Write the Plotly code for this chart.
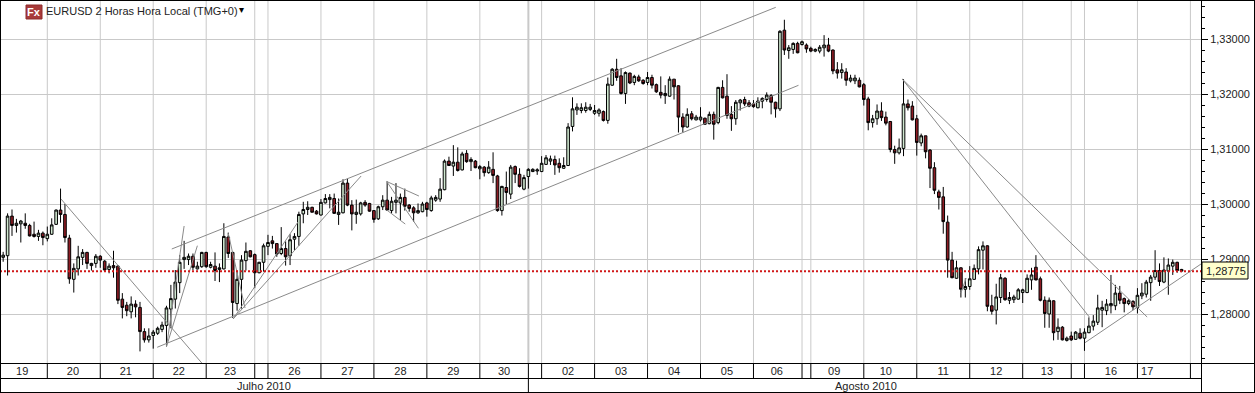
import plotly.graph_objects as go

# Prices in pips (1/10000), one entry per 2-hour candle
high_pips = [
12913,12983,12990,12973,12971,12983,12964,12968,12953,12950,
12959,12974,12990,13028,13000,12944,12892,12924,12918,12913,
12893,12909,12907,12898,12892,12915,12889,12838,12822,12832,
12825,12822,12774,12774,12771,12777,12786,12815,12853,12880,
12907,12933,12910,12910,12895,12913,12913,12895,12912,12892,
12965,12948,12913,12879,12907,12930,12916,12910,12895,12928,
12944,12942,12928,12958,12932,12945,12947,12986,
13004,13005,12995,12989,13009,13018,13018,13019,13010,13045,
13046,13007,13008,13004,13007,13002,12989,12997,13016,13041,
13013,13038,13019,13028,13000,12996,13001,13004,13004,13015,
13016,13047,13081,13086,13107,13103,13095,13098,13085,13080,
13071,13069,13078,13094,13053,13033,13059,13071,13070,13065,
13053,13065,13065,13065,13087,13089,13088,13088,13083,13085,
13147,13194,13183,13183,13185,13182,13180,13174,13170,13230,
13247,13264,13247,13241,13239,13235,13235,13227,13240,13235,
13219,13232,13216,13232,13227,13216,13165,13174,13169,13162,
13176,13157,13168,13168,13213,13225,13236,13178,13189,13191,
13195,13189,13189,13194,13194,13203,13200,13186,13316,13335,
13289,13294,13295,13297,13292,13286,13283,13289,13307,13302,
13281,13258,13256,13247,13235,13235,13230,
13220,13195,13162,13181,13185,13168,13151,13106,13119,13227,
13190,13187,13162,13128,13124,13100,13076,13026,13031,12979,
12913,12897,12885,12865,12887,12890,12923,12932,12925,12835,
12855,12873,12867,12840,12835,12847,12846,12872,12884,12907,
12868,
12832,12830,12825,12792,12778,12759,12768,12769,12774,12774,
12794,12798,12835,12824,12827,12871,12853,12851,12830,12827,
12825,12847,12856,12862,12871,12916,12892,12903,12901,12899,
12895,12882]

body_top_pips = [
12907,12978,12978,12965,12969,12965,12961,12945,12947,12947,
12945,12962,12989,12989,12981,12938,12883,12904,12912,12912,
12892,12905,12905,12896,12887,12888,12887,12827,12816,12818,
12818,12812,12768,12760,12767,12774,12780,12811,12828,12858,
12894,12903,12905,12905,12887,12912,12912,12890,12887,12884,
12941,12940,12912,12863,12898,12914,12915,12908,12894,12924,
12930,12933,12928,12919,12919,12935,12941,12981,
12990,12994,12994,12987,13003,13010,13012,13010,12985,13038,
13038,12998,12985,13002,13003,13001,12988,12995,13007,13007,
13005,13007,13012,13012,12998,12993,12988,13000,13002,13011,
13012,13027,13078,13078,13076,13076,13091,13092,13081,13078,
13068,13067,13067,13063,13051,13032,13030,13067,13068,13054,
13048,13063,13063,13062,13074,13084,13082,13081,13074,13070,
13140,13173,13176,13175,13176,13176,13170,13171,13168,13218,
13245,13245,13233,13239,13238,13232,13231,13225,13230,13230,
13217,13203,13201,13227,13227,13215,13158,13163,13164,13158,
13158,13156,13163,13163,13212,13212,13196,13163,13185,13189,
13190,13184,13182,13187,13192,13198,13197,13185,13314,13316,
13284,13292,13292,13295,13289,13283,13281,13285,13289,13289,
13280,13244,13244,13240,13229,13229,13225,
13217,13191,13155,13169,13169,13158,13150,13099,13102,13182,
13182,13178,13155,13124,13124,13098,13066,13022,13013,12967,
12898,12884,12884,12850,12864,12883,12917,12924,12924,12815,
12831,12866,12865,12830,12831,12844,12844,12865,12871,12885,
12864,
12825,12825,12824,12776,12776,12756,12760,12767,12765,12767,
12778,12787,12811,12812,12818,12819,12838,12838,12828,12824,
12823,12834,12838,12858,12867,12879,12879,12880,12889,12894,
12894,12881]

body_bottom_pips = [
12903,12906,12961,12961,12964,12961,12942,12941,12941,12939,
12937,12945,12963,12981,12939,12864,12863,12882,12903,12892,
12888,12892,12898,12880,12881,12884,12825,12812,12806,12804,
12813,12768,12753,12753,12761,12765,12772,12779,12809,12827,
12857,12899,12899,12885,12882,12886,12886,12885,12879,12881,
12882,12910,12821,12819,12863,12897,12904,12875,12875,12894,
12923,12928,12909,12910,12904,12906,12936,12941,
12982,12990,12985,12982,12980,13002,13008,12983,12981,12984,
12998,12982,12981,12982,12998,12987,12972,12973,12995,12989,
12988,13003,13002,12996,12992,12984,12984,12986,12990,12988,
13007,13009,13026,13070,13069,13061,13062,13077,13077,13066,
13064,13057,13057,13052,12988,12988,13021,13018,13054,13032,
13027,13050,13059,13060,13059,13072,13078,13071,13066,13065,
13070,13141,13171,13170,13170,13172,13165,13165,13152,13152,
13216,13230,13201,13201,13220,13221,13224,13219,13221,13216,
13204,13198,13197,13196,13213,13158,13140,13140,13155,13153,
13153,13145,13146,13145,13148,13193,13161,13155,13155,13184,
13182,13178,13177,13175,13187,13190,13185,13173,13173,13280,
13279,13281,13275,13290,13282,13278,13278,13278,13284,13278,
13242,13238,13239,13225,13224,13224,13213,
13190,13148,13148,13155,13157,13147,13099,13093,13093,13101,
13175,13153,13112,13111,13095,13065,13025,13012,12968,12898,
12866,12865,12845,12845,12850,12863,12882,12916,12814,12805,
12807,12830,12826,12825,12826,12827,12839,12839,12862,12862,
12825,
12801,12800,12766,12768,12753,12752,12753,12754,12756,12756,
12766,12778,12785,12807,12806,12815,12815,12825,12819,12819,
12813,12812,12833,12836,12857,12867,12859,12858,12878,12887,
12879,12878]

low_pips = [
12895,12870,12942,12948,12930,12955,12941,12939,12933,12925,
12932,12944,12962,12966,12930,12855,12839,12870,12889,12882,
12879,12884,12884,12877,12874,12866,12818,12792,12796,12792,
12794,12732,12748,12748,12737,12762,12767,12741,12774,12810,
12838,12882,12889,12880,12881,12884,12884,12883,12860,12858,
12881,12902,12793,12806,12810,12879,12903,12847,12874,12877,
12907,12919,12904,12907,12888,12889,12916,12924,
12965,12980,12985,12981,12979,13001,12992,12982,12962,12983,
12996,12952,12964,12979,12995,12986,12966,12971,12989,12988,
12983,12983,12971,12988,12986,12968,12982,12985,12977,12986,
13004,13004,13025,13069,13051,13059,13061,13075,13060,13065,
13045,13050,13055,13038,12986,12979,13000,13009,13038,13030,
13025,13028,13058,13053,13058,13071,13071,13053,13057,13064,
13069,13132,13162,13165,13166,13169,13162,13159,13150,13146,
13215,13224,13199,13182,13218,13216,13222,13217,13216,13210,
13202,13192,13182,13195,13190,13130,13130,13139,13152,13152,
13150,13144,13145,13117,13145,13192,13155,13133,13144,13170,
13178,13176,13175,13174,13174,13186,13163,13157,13169,13271,
13264,13273,13274,13288,13275,13276,13276,13274,13268,13276,
13236,13228,13228,13215,13221,13218,13212,
13179,13134,13139,13144,13151,13143,13094,13073,13090,13087,
13170,13152,13088,13105,13083,13029,13018,12990,12946,12866,
12865,12864,12830,12830,12844,12862,12872,12881,12805,12799,
12781,12820,12824,12818,12820,12826,12820,12838,12844,12861,
12823,
12775,12775,12752,12753,12752,12750,12751,12753,12754,12733,
12765,12770,12780,12776,12798,12801,12807,12818,12803,12816,
12807,12801,12827,12830,12824,12862,12851,12856,12835,12871,
12875,12876]

# G = closed up, R = closed down
direction = (
"GGRGGRRRGR" "GGGRRRGGGR" "GGRRGRRRRG" "RRRGGGGGGG" "GGGRGGRGRG" "GRRGGGRRGG" "GRRGRGGG"
"GGRRGGGRGG" "RRGGRRRGGR" "GGGRRRGGRG" "GGGRGRGRGR" "GRGRRGRGRR" "GGGGGGGRRG"
"GGGGGGGGRG" "GRRGRGRRGR" "RRGGRRRGRG" "GRGRGRRRGG" "RRRGGGRRGR" "GGRGRRGGGR" "RRGRGGR"
"RRGGRRRRGG" "RRRGRRRRRR" "RGRGGGGGRR" "GGRGGGGGGR" "R"
"RGRGRGRGRG" "GGGGGGGRRG" "RGGGGGRGGG" "RR")

# Candle index where each session starts; month start separately
day_starts = [10, 22, 34, 46, 57, 60, 72, 84, 96, 108, 119, 122, 134, 146, 158, 170,
              181, 183, 195, 207, 219, 231, 242, 245, 257, 269]
month_start = 119
day_labels = ["19","20","21","22","23","26","27","28","29","30","02","03","04","05","06",
              "09","10","11","12","13","16","17"]
day_label_pos = [4.3, 15.8, 27.8, 39.8, 51.4, 66, 78, 90, 102, 113.5, 128, 140, 152, 164,
                 175.3, 188.3, 200, 213, 225, 236.5, 251, 259.2]
month_labels = ["Julho 2010", "Agosto 2010"]
month_label_pos = [59, 195.5]
last_price = 1.28775
price_ticks = [1.28, 1.29, 1.30, 1.31, 1.32, 1.33]

# Drawn trend lines: pairs of (candle index, price)
trend_lines = [
    ([13.1, 45.0], [1.30091, 1.27109]),
    ([38.2, 175.05], [1.29182, 1.33576]),
    ([34.9, 180.2], [1.27395, 1.32158]),
    ([37.0, 41.0], [1.27405, 1.29600]),
    ([37.0, 44.0], [1.27405, 1.29242]),
    ([52.1, 81.1], [1.27909, 1.30509]),
    ([52.1, 66.8], [1.27909, 1.29673]),
    ([51.0, 54.8], [1.29467, 1.28109]),
    ([86.9, 94.2], [1.30409, 1.30145]),
    ([86.9, 94.1], [1.30409, 1.29558]),
    ([86.9, 91.1], [1.29891, 1.29636]),
    ([203.7, 259.2], [1.32273, 1.27945]),
    ([203.7, 246.1], [1.32273, 1.27945]),
    ([245.1, 271.4], [1.27478, 1.28909]),
    ([217.0, 218.2], [1.28382, 1.28655]),
]

x = list(range(len(high_pips)))
opens = [(b if d == "G" else t) / 1e4 for b, t, d in zip(body_bottom_pips, body_top_pips, direction)]
closes = [(t if d == "G" else b) / 1e4 for b, t, d in zip(body_bottom_pips, body_top_pips, direction)]
highs = [v / 1e4 for v in high_pips]
lows = [v / 1e4 for v in low_pips]

FONT = "Liberation Sans"
W, H = 1255, 393
PL, PR, PT, PB = 0, 1201, 1, 363
XR = [-0.718, 271.4]
YR = [1.27109, 1.33691]

def px(v):
    return (v - PL) / (PR - PL)

def py(v):
    return (PB - v) / (PB - PT)

fig = go.Figure()

tx, ty = [], []
for xs, ys in trend_lines:
    tx += xs + [None]
    ty += ys + [None]

fig.add_trace(go.Candlestick(
    x=x, open=opens, high=highs, low=lows, close=closes,
    whiskerwidth=0,
    increasing=dict(line=dict(color="#000000", width=1), fillcolor="#d0e8d0"),
    decreasing=dict(line=dict(color="#000000", width=1), fillcolor="#8e1c24"),
    hoverinfo="skip", showlegend=False))
fig.add_trace(go.Scatter(x=tx, y=ty, mode="lines", line=dict(color="#8a8a8a", width=1),
                         hoverinfo="skip", showlegend=False))

shapes = []
# vertical day grid
for d in day_starts:
    shapes.append(dict(type="line", xref="x", yref="paper", x0=d, x1=d, y0=0, y1=1, layer="below",
                       line=dict(color="#c9c9c9", width=2 if d == month_start else 1)))
    # separators in the date strip
    shapes.append(dict(type="line", xref="x", yref="paper", x0=d, x1=d, y0=py(378), y1=0,
                       line=dict(color="#000000", width=1)))
# month separator
shapes.append(dict(type="line", xref="x", yref="paper", x0=month_start, x1=month_start,
                   y0=py(392), y1=py(378), line=dict(color="#000000", width=1)))
# current price line
shapes.append(dict(type="line", xref="paper", yref="y", x0=0, x1=1, y0=last_price, y1=last_price,
                   line=dict(color="#d01818", width=2, dash="2px,2px")))
# frame
black = dict(color="#000000", width=1)
for (a, b, c, d) in [(0, 0.5, 1255, 0.5), (0.5, 0, 0.5, 393), (0, 392.5, 1255, 392.5),
                     (1254.5, 0, 1254.5, 393), (0, 363.5, 1255, 363.5), (0, 378.5, 1201, 378.5),
                     (1201.5, 0, 1201.5, 393)]:
    shapes.append(dict(type="line", xref="paper", yref="paper", x0=px(a), x1=px(c),
                       y0=py(b), y1=py(d), line=black))
# price tag
shapes.append(dict(type="rect", xref="paper", yref="paper", x0=px(1202), x1=px(1248),
                   y0=py(279), y1=py(262), line=dict(color="#000000", width=1), fillcolor="#ffffcc"))
# Fx badge
shapes.append(dict(type="rect", xref="paper", yref="paper", x0=px(26), x1=px(42),
                   y0=py(19), y1=py(5), line=dict(color="#8e2a2a", width=1), fillcolor="#a83a3a"))

ann = []
for t, p in zip(month_labels, month_label_pos):
    ann.append(dict(text=t, x=p, xref="x", y=py(385.5), yref="paper", showarrow=False,
                    xanchor="center", yanchor="middle", font=dict(family=FONT, size=11, color="#222222")))
ann.append(dict(text="1,28775", x=px(1225.5), y=py(271), xref="paper", yref="paper", showarrow=False,
                xanchor="center", yanchor="middle", font=dict(family=FONT, size=11, color="#222222")))
ann.append(dict(text="<b>Fx</b>", x=px(34), y=py(12), xref="paper", yref="paper", showarrow=False,
                xanchor="center", yanchor="middle", font=dict(family=FONT, size=11, color="#ffffff")))
ann.append(dict(text="EURUSD 2 Horas Hora Local (TMG+0)", x=px(44), y=py(11), xref="paper", yref="paper",
                showarrow=False, xanchor="left", yanchor="middle",
                font=dict(family=FONT, size=11, color="#222222")))
ann.append(dict(text="▾", x=px(237), y=py(9), xref="paper", yref="paper", showarrow=False,
                xanchor="left", yanchor="middle", font=dict(family="DejaVu Sans", size=10, color="#000000")))

fig.update_layout(
    width=W, height=H, autosize=False,
    margin=dict(l=PL, r=W - PR, t=PT, b=H - PB, pad=0),
    paper_bgcolor="#ffffff", plot_bgcolor="#ffffff",
    separators=", ", showlegend=False, boxgap=0.15,
    shapes=shapes, annotations=ann,
    xaxis=dict(range=XR, type="linear", rangeslider=dict(visible=False), showgrid=False, zeroline=False,
               showline=False, tickmode="array", tickvals=day_label_pos, ticktext=day_labels, ticks="",
               ticklabelstandoff=0, tickfont=dict(family=FONT, size=11, color="#222222")),
    yaxis=dict(range=YR, side="right", tickmode="array", tickvals=price_ticks, tickformat=".5f",
               showgrid=True, gridcolor="#c9c9c9", gridwidth=1, zeroline=False, showline=False,
               ticks="outside", ticklen=6, tickcolor="#000000", tickwidth=1,
               minor=dict(dtick=0.002, ticks="outside", ticklen=3, tickcolor="#000000", showgrid=False),
               tickfont=dict(family=FONT, size=11, color="#222222")),
)

fig.write_html("out.html", config=dict(displayModeBar=False),
               post_script="document.body.style.margin='0';document.documentElement.style.overflow='hidden';")
